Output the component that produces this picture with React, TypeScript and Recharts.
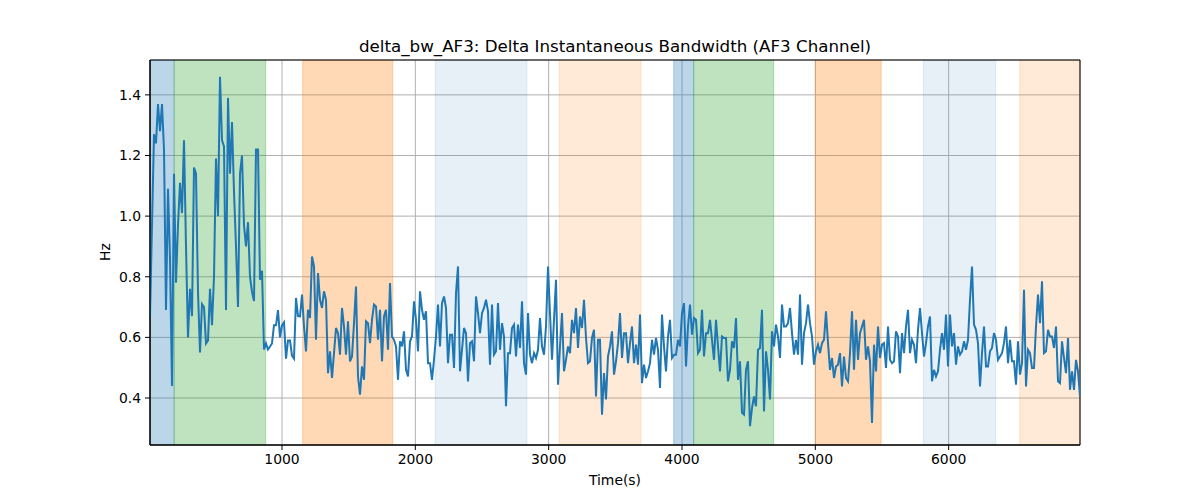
import { LineChart, Line, XAxis, YAxis, CartesianGrid, ReferenceArea } from "recharts";

// sampling of the recording
const T0 = 10;
const STEP = 15;

const bwSeg1 = [
  0.67, 0.97, 1.27, 1.24, 1.37, 1.28, 1.37, 1.22, 0.69, 1.09,
  0.86, 0.44, 1.14, 0.78, 0.97, 1.11, 1.01, 1.25, 0.9, 0.6,
  0.76, 0.67, 1.16, 1.14, 0.75, 0.55, 0.71, 0.7, 0.58, 0.59,
  0.76, 0.64, 0.8, 1.19, 1.0, 1.46, 1.25, 1.23, 0.69, 1.39,
  1.14, 1.31, 1.08, 0.9, 0.7, 1.14, 1.2, 0.97, 0.9, 0.98,
  0.8, 0.75, 0.72, 1.22, 1.22, 0.79, 0.82, 0.56, 0.58, 0.56,
  0.57, 0.58, 0.64, 0.64, 0.69, 0.6, 0.64, 0.65, 0.53, 0.59,
  0.59, 0.54, 0.53, 0.73, 0.67,
];
const bwSeg2 = [
  0.669, 0.741, 0.636, 0.554, 0.691, 0.664, 0.867, 0.834, 0.592, 0.812,
  0.724, 0.697, 0.752, 0.724, 0.482, 0.554, 0.466, 0.548, 0.631, 0.614,
  0.543, 0.697, 0.636, 0.543, 0.653, 0.521, 0.537, 0.647, 0.768, 0.471,
  0.411, 0.504, 0.46, 0.653, 0.647, 0.581, 0.658, 0.708, 0.702, 0.592,
  0.691, 0.521, 0.669, 0.691, 0.559, 0.779, 0.603, 0.592, 0.57, 0.46,
  0.587, 0.57, 0.62, 0.493, 0.471, 0.587, 0.603, 0.719, 0.658, 0.554,
  0.752, 0.691, 0.658, 0.686, 0.515, 0.515, 0.46, 0.526, 0.603, 0.708,
  0.57, 0.713, 0.735, 0.697, 0.515, 0.609, 0.609, 0.499, 0.746, 0.834,
  0.488,
];
const bwSeg3 = [
  0.559, 0.631, 0.614, 0.455, 0.581, 0.587, 0.521, 0.735, 0.68, 0.614,
  0.68, 0.697, 0.724, 0.686, 0.51, 0.708, 0.543, 0.554, 0.713, 0.559,
  0.647, 0.603, 0.373, 0.548, 0.548, 0.631, 0.642, 0.537, 0.642, 0.565,
  0.719, 0.515, 0.477, 0.68, 0.543, 0.515, 0.548, 0.532, 0.559, 0.664,
  0.57, 0.543, 0.636, 0.834, 0.68, 0.526, 0.658, 0.79, 0.444, 0.57,
  0.68, 0.488, 0.526, 0.57, 0.548, 0.658, 0.614, 0.697, 0.565, 0.669,
  0.631, 0.724, 0.598, 0.515, 0.521, 0.598, 0.625, 0.405, 0.592, 0.592,
  0.345, 0.482, 0.395, 0.537, 0.57, 0.62, 0.477,
];
const bwSeg4 = [
  0.521, 0.581, 0.68, 0.532, 0.614, 0.614, 0.515, 0.581, 0.636, 0.515,
  0.576, 0.51, 0.675, 0.449, 0.51, 0.466, 0.488, 0.515, 0.592, 0.543,
  0.598, 0.559, 0.433, 0.675, 0.57, 0.488, 0.603, 0.658, 0.532, 0.543,
  0.543, 0.592, 0.57, 0.68, 0.713, 0.504, 0.636, 0.708, 0.609, 0.664,
  0.658, 0.548, 0.559, 0.691, 0.537, 0.614, 0.614, 0.658, 0.592, 0.526,
  0.658, 0.57, 0.488, 0.603, 0.598, 0.598, 0.455, 0.493, 0.587, 0.565,
  0.664, 0.46, 0.521, 0.351, 0.345, 0.493, 0.521, 0.307, 0.367, 0.405,
  0.373, 0.559, 0.565, 0.691, 0.356, 0.554, 0.493, 0.395,
];
const bwSeg5 = [
  0.62, 0.57, 0.642, 0.603, 0.532, 0.708, 0.636, 0.636, 0.647, 0.697,
  0.614, 0.543, 0.592, 0.543, 0.741, 0.51, 0.614, 0.647, 0.708, 0.647,
  0.603, 0.51, 0.554, 0.576, 0.548, 0.581, 0.592, 0.686, 0.581, 0.493,
  0.532, 0.466, 0.504, 0.51, 0.548, 0.438, 0.537, 0.466, 0.455, 0.548,
  0.686, 0.493, 0.658, 0.526, 0.614, 0.636, 0.658, 0.526, 0.57, 0.521,
  0.318, 0.576, 0.488, 0.636, 0.532, 0.576, 0.581, 0.499, 0.636, 0.526,
  0.515, 0.521, 0.62, 0.603, 0.482, 0.614, 0.548, 0.636, 0.691, 0.548,
  0.592, 0.576, 0.515, 0.625, 0.697, 0.614, 0.537,
];
const bwSeg6 = [
  0.581, 0.636, 0.669, 0.455, 0.493, 0.471, 0.488, 0.559, 0.614, 0.559,
  0.675, 0.504, 0.675, 0.57, 0.614, 0.51, 0.57, 0.543, 0.554, 0.587,
  0.559, 0.592, 0.724, 0.834, 0.642, 0.625, 0.581, 0.438, 0.548, 0.636,
  0.504, 0.504, 0.554, 0.565, 0.614, 0.592, 0.526, 0.537, 0.548, 0.581,
  0.636, 0.515, 0.592, 0.521, 0.521, 0.444, 0.587, 0.477, 0.515, 0.757,
  0.438, 0.559, 0.548, 0.499, 0.499, 0.636, 0.741, 0.647, 0.785, 0.548,
  0.554, 0.625, 0.603, 0.603, 0.565, 0.636, 0.455, 0.449, 0.587, 0.532,
  0.482, 0.598, 0.427, 0.488, 0.427, 0.526, 0.488, 0.405,
];

const bandwidth = [...bwSeg1, ...bwSeg2, ...bwSeg3, ...bwSeg4, ...bwSeg5, ...bwSeg6];

// shaded intervals (s)
const bandStart = [10, 191, 1155, 2149, 3080, 3938, 4088, 5001, 5810, 6533];
const bandEnd = [191, 878, 1831, 2837, 3693, 4088, 4688, 5494, 6353, 6985];
const bandKind = ["blue", "green", "orange", "blueLight", "orangeLight", "blue", "green", "orange", "blueLight", "orangeLight"];

const xTicks = [1000, 2000, 3000, 4000, 5000, 6000];
const yTicks = [0.4, 0.6, 0.8, 1.0, 1.2, 1.4];

const bandStyle: Record<string, { color: string; alpha: number }> = {
  blue: { color: "#1f77b4", alpha: 0.3 },
  green: { color: "#2ca02c", alpha: 0.3 },
  orange: { color: "#ff7f0e", alpha: 0.3 },
  blueLight: { color: "#1f77b4", alpha: 0.115 },
  orangeLight: { color: "#ff7f0e", alpha: 0.16 },
};

const data = bandwidth.map((v, i) => ({ time: T0 + i * STEP, bw: v }));
const xMax = T0 + (bandwidth.length - 1) * STEP;

const font = "'DejaVu Sans', sans-serif";
const tickStyle = { fill: "#000", fontSize: 13.9, fontFamily: font };

export default function App() {
  return (
    <div style={{ position: "absolute", left: 0, top: 0, width: 1200, height: 500, background: "#fff" }}>
      <div
        style={{
          position: "absolute",
          top: 36,
          left: 150,
          width: 930,
          textAlign: "center",
          fontFamily: font,
          fontSize: 16.7,
          lineHeight: "20px",
          color: "#000",
        }}
      >
        delta_bw_AF3: Delta Instantaneous Bandwidth (AF3 Channel)
      </div>
      <LineChart
        width={1200}
        height={500}
        data={data}
        margin={{ top: 60, right: 120, bottom: 25, left: 100 }}
      >
        <CartesianGrid stroke="#b0b0b0" strokeWidth={1} />
        {bandStart.map((s, i) => {
          const st = bandStyle[bandKind[i]];
          return (
            <ReferenceArea
              key={i}
              x1={s}
              x2={bandEnd[i]}
              fill={st.color}
              fillOpacity={st.alpha}
              stroke={st.color}
              strokeOpacity={st.alpha}
              ifOverflow="hidden"
            />
          );
        })}
        <XAxis
          dataKey="time"
          type="number"
          domain={[T0, xMax]}
          ticks={xTicks}
          allowDataOverflow
          height={30}
          tick={tickStyle}
          tickSize={5}
          tickMargin={4}
          stroke="#000"
          axisLine={{ stroke: "#000" }}
          tickLine={{ stroke: "#000" }}
        />
        <YAxis
          type="number"
          domain={[0.245, 1.515]}
          ticks={yTicks}
          allowDataOverflow
          width={50}
          tick={tickStyle}
          tickSize={5}
          tickMargin={4}
          tickFormatter={(v: number) => v.toFixed(1)}
          axisLine={{ stroke: "#000" }}
          tickLine={{ stroke: "#000" }}
        />
        <Line
          type="linear"
          dataKey="bw"
          stroke="#1f77b4"
          strokeWidth={2}
          dot={false}
          activeDot={false}
          isAnimationActive={false}
        />
        <ReferenceArea
          x1={T0}
          x2={xMax}
          y1={0.245}
          y2={1.515}
          fill="none"
          stroke="#000"
          strokeWidth={1}
          ifOverflow="extendDomain"
        />
      </LineChart>
      <div
        style={{
          position: "absolute",
          top: 472,
          left: 150,
          width: 930,
          textAlign: "center",
          fontFamily: font,
          fontSize: 13.9,
          lineHeight: "17px",
          color: "#000",
        }}
      >
        Time(s)
      </div>
      <div
        style={{
          position: "absolute",
          left: 105,
          top: 252,
          transform: "translate(-50%, -50%) rotate(-90deg)",
          fontFamily: font,
          fontSize: 13.9,
          lineHeight: "17px",
          color: "#000",
        }}
      >
        Hz
      </div>
    </div>
  );
}
